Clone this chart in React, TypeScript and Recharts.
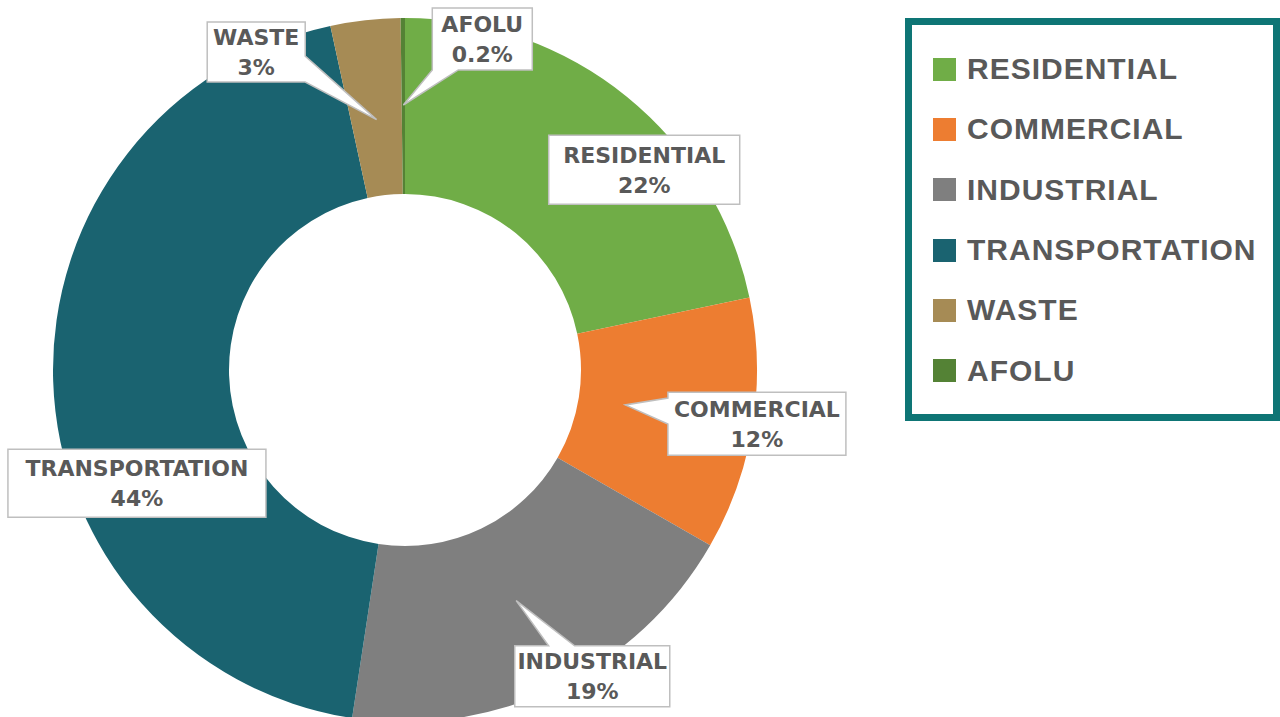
import React from "react";
import { PieChart, Pie, Cell, Legend } from "recharts";

const sectors = ["RESIDENTIAL", "COMMERCIAL", "INDUSTRIAL", "TRANSPORTATION", "WASTE", "AFOLU"];
// slice sizes as measured from the ring; labels show the rounded figures
const shares = [21.7, 11.6, 19.1, 44.2, 3.2, 0.2];
const shareLabels = ["22%", "12%", "19%", "44%", "3%", "0.2%"];
const colors = ["#70AD47", "#ED7D31", "#7F7F7F", "#1A6370", "#A68B55", "#548235"];

const data = sectors.map((name, i) => ({ name, value: shares[i], fill: colors[i] }));

// where each label box sits: angle shift from slice middle (deg, clockwise), distance from centre,
// box size, and radius of the callout tip (0 = no pointer)
const labelLayout = [
  { shift: 11.0, dist: 312, w: 191, h: 69, tip: 0 },
  { shift: -0.3, dist: 356, w: 178, h: 63, tip: 223 },
  { shift: -5.7, dist: 359, w: 155, h: 61, tip: 256 },
  { shift: -21.1, dist: 291, w: 258, h: 68, tip: 0 },
  { shift: -18.6, dist: 351, w: 98, h: 60, tip: 252 },
  { shift: 13.5, dist: 340, w: 100, h: 62, tip: 265 },
];

const RADIAN = Math.PI / 180;
const TEXT_GRAY = "#595959";

const renderLabel = (props: any) => {
  const { cx, cy, midAngle, index } = props;
  const lay = labelLayout[index];
  const theta = (90 - midAngle + lay.shift) * RADIAN;
  const bx = cx + lay.dist * Math.sin(theta);
  const by = cy - lay.dist * Math.cos(theta);
  const l = bx - lay.w / 2;
  const r = bx + lay.w / 2;
  const t = by - lay.h / 2;
  const b = by + lay.h / 2;

  let pts: number[][] = [[l, t], [r, t], [r, b], [l, b]];
  if (lay.tip) {
    const mid = (90 - midAngle) * RADIAN;
    const tx = cx + lay.tip * Math.sin(mid);
    const ty = cy - lay.tip * Math.cos(mid);
    const dx = tx - bx;
    const dy = ty - by;
    const half = 13;
    const clamp = (v: number, lo: number, hi: number) => Math.max(lo, Math.min(hi, v));
    if (Math.abs(dx) / (lay.w / 2) > Math.abs(dy) / (lay.h / 2)) {
      const yy = clamp(by + (dy * (lay.w / 2)) / Math.abs(dx), t + half, b - half);
      if (dx > 0) pts = [[l, t], [r, t], [r, yy - half], [tx, ty], [r, yy + half], [r, b], [l, b]];
      else pts = [[l, t], [r, t], [r, b], [l, b], [l, yy + half], [tx, ty], [l, yy - half]];
    } else {
      const xx = clamp(bx + (dx * (lay.h / 2)) / Math.abs(dy), l + half, r - half);
      if (dy < 0) pts = [[l, t], [xx - half, t], [tx, ty], [xx + half, t], [r, t], [r, b], [l, b]];
      else pts = [[l, t], [r, t], [r, b], [xx + half, b], [tx, ty], [xx - half, b], [l, b]];
    }
  }
  const d = pts.map((p, i) => `${i ? "L" : "M"}${p[0]},${p[1]}`).join(" ") + " Z";

  const textProps = {
    x: bx,
    textAnchor: "middle" as const,
    dominantBaseline: "central" as const,
    fill: TEXT_GRAY,
    fontFamily: "'DejaVu Sans', sans-serif",
    fontWeight: "bold",
    fontSize: 22,
  };

  return (
    <g key={`lbl-${index}`}>
      <path d={d} fill="#fff" stroke="#BFBFBF" strokeWidth={1.5} />
      <text {...textProps} y={by - 14.5}>
        {sectors[index]}
      </text>
      <text {...textProps} y={by + 15.5}>
        {shareLabels[index]}
      </text>
    </g>
  );
};

const renderLegend = (props: any) => {
  const payload = props.payload && props.payload.length ? props.payload : [];
  const items = sectors.map((name, i) => {
    const p = payload.find((e: any) => e.value === name);
    return { name, color: (p && p.color) || colors[i] };
  });
  return (
    <div
      style={{
        boxSizing: "border-box",
        width: 375,
        height: 403,
        border: "7px solid #0E7575",
        background: "#fff",
        paddingTop: 14,
        paddingLeft: 21,
      }}
    >
      {items.map((it) => (
        <div key={it.name} style={{ display: "flex", alignItems: "center", height: 60.3 }}>
          <span style={{ display: "inline-block", width: 23, height: 23, background: it.color, marginRight: 11 }} />
          <span
            style={{
              fontFamily: "'Liberation Sans', Arial, sans-serif",
              fontWeight: "bold",
              fontSize: 30,
              color: TEXT_GRAY,
              letterSpacing: 1.0,
              lineHeight: 1,
            }}
          >
            {it.name}
          </span>
        </div>
      ))}
    </div>
  );
};

export default function App() {
  return (
    <div style={{ position: "fixed", left: 0, top: 0, width: 1280, height: 717, background: "#fff", overflow: "hidden" }}>
      <PieChart width={1280} height={717} margin={{ top: 0, right: 0, bottom: 0, left: 0 }}>
        <Pie
          data={data}
          dataKey="value"
          nameKey="name"
          cx={405}
          cy={370}
          innerRadius={176}
          outerRadius={352}
          startAngle={90}
          endAngle={-270}
          stroke="none"
          label={renderLabel}
          labelLine={false}
          isAnimationActive={false}
        >
          {data.map((d) => (
            <Cell key={d.name} fill={d.fill} />
          ))}
        </Pie>
        <Legend content={renderLegend} wrapperStyle={{ position: "absolute", left: 905, top: 18, width: 375, height: 403 }} />
      </PieChart>
    </div>
  );
}
